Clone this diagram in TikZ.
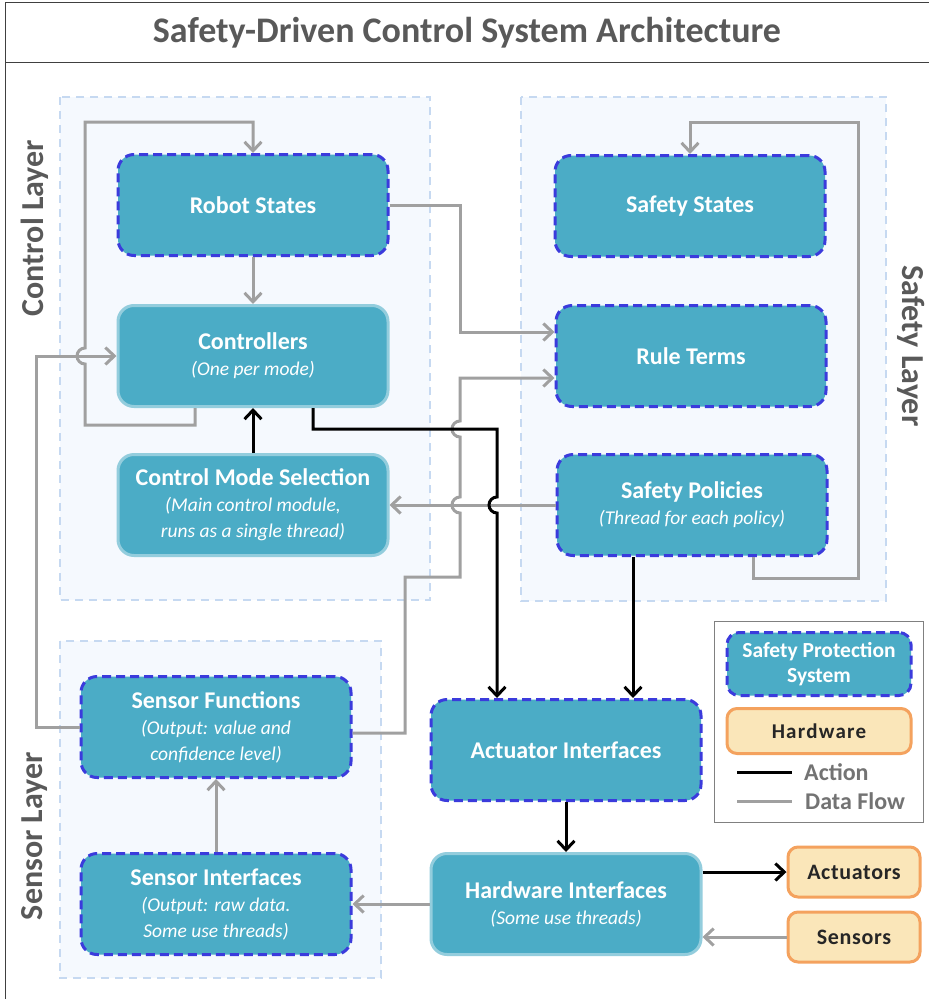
\documentclass[tikz,border=0pt]{standalone}
\usepackage{fontspec}
\setmainfont{Carlito}
\usetikzlibrary{arrows.meta, calc}
\definecolor{boxteal}{HTML}{4BACC6}
\definecolor{boxedge}{HTML}{93CDDD}
\definecolor{safetyedge}{HTML}{3B3BDC}
\definecolor{hwfill}{HTML}{FAE6B9}
\definecolor{hwedge}{HTML}{F4A25E}
\definecolor{layerfill}{HTML}{F5F9FE}
\definecolor{layeredge}{HTML}{C6D9F1}
\definecolor{flowgray}{HTML}{A0A0A0}
\definecolor{labelgray}{HTML}{595959}
\newcommand{\subline}{\fontsize{19.5}{26}\selectfont\itshape\mdseries}

\begin{document}
\begin{tikzpicture}[x=1pt, y=1pt, yscale=-1,
    basebox/.style={rectangle, rounded corners=16pt, fill=boxteal, text=white, align=center,
        minimum width=270pt, minimum height=101pt, line width=3pt, inner sep=2pt,
        font=\fontsize{24}{26}\selectfont\bfseries},
    safetybox/.style={basebox, draw=safetyedge, dash pattern=on 9pt off 5pt},
    plainbox/.style={basebox, draw=boxedge},
    hwbox/.style={rectangle, rounded corners=10pt, fill=hwfill, draw=hwedge, line width=3pt,
        text=black!85, minimum width=132pt, minimum height=50pt,
        font=\fontsize{22}{24}\selectfont\bfseries\addfontfeature{LetterSpace=3}},
    layerbox/.style={fill=layerfill, draw=layeredge, line width=2pt, dash pattern=on 8pt off 6pt},
    layerlabel/.style={text=labelgray, font=\fontsize{32}{34}\selectfont\bfseries},
    legendtext/.style={text=black!55, anchor=west, inner sep=0pt, font=\fontsize{24}{26}\selectfont\bfseries},
    dataflow/.style={draw=flowgray, line width=3pt, -{Straight Barb[length=9pt, width=17pt]}},
    action/.style={draw=black, line width=3pt, -{Straight Barb[length=9pt, width=17pt]}}]

    \useasboundingbox (0,0) rectangle (929,999);

    % frame and title
    \draw[line width=1pt, draw=black!75] (5,2) rectangle (945,1015);
    \draw[line width=1pt, draw=black!75] (5,62) -- (945,62);
    \node[text=labelgray, font=\fontsize{36}{40}\selectfont\bfseries] (title) at (467,33)
        {Safety-Driven Control System Architecture};

    % layers
    \path[layerbox] (60,97) rectangle (430,600);
    \path[layerbox] (521,97) rectangle (886,601);
    \path[layerbox] (60,641) rectangle (381,978);
    \node[layerlabel, rotate=90] (ctrllayer) at (35,228) {Control Layer};
    \node[layerlabel, rotate=-90] (safelayer) at (911,346) {Safety Layer};
    \node[layerlabel, rotate=90] (senslayer) at (35,836) {Sensor Layer};

    % control layer
    \node[safetybox] (rstate) at (253,205) {Robot States};
    \node[plainbox] (ctrl) at (253,356) {Controllers\\{\subline (One per mode)}};
    \node[plainbox] (cms) at (253,505) {Control Mode Selection\\{\subline (Main control module,}\\{\subline runs as a single thread)}};

    % safety layer
    \node[safetybox] (sstate) at (690,206) {Safety States};
    \node[safetybox] (rule) at (691,356) {Rule Terms};
    \node[safetybox] (spol) at (692,505) {Safety Policies\\{\subline (Thread for each policy)}};

    % sensor layer
    \node[safetybox] (sfun) at (216,727) {Sensor Functions\\{\subline (Output: value and}\\{\subline confidence level)}};
    \node[safetybox] (sint) at (216,904) {Sensor Interfaces\\{\subline (Output: raw data.}\\{\subline Some use threads)}};

    % interfaces and hardware
    \node[safetybox] (act) at (566,750) {Actuator Interfaces};
    \node[plainbox] (hwif) at (566,904) {Hardware Interfaces\\{\subline (Some use threads)}};
    \node[hwbox] (actu) at (854,872) {Actuators};
    \node[hwbox] (sens) at (854,937) {Sensors};

    % legend
    \draw[draw=black!50, line width=1pt, fill=white] (714,621) rectangle (923,822);
    \node[safetybox, minimum width=184pt, minimum height=63pt, rounded corners=12pt,
        font=\fontsize{21.5}{25}\selectfont\bfseries] (lgsafe) at (819,664) {Safety Protection\\System};
    \node[hwbox, minimum width=184pt, minimum height=45pt,
        font=\fontsize{21}{24}\selectfont\bfseries\addfontfeature{LetterSpace=6}] (lghw) at (819,731) {Hardware};
    \node[legendtext] (lgacttxt) at (804,772) {Action};
    \node[legendtext] (lgflowtxt) at (805,801) {Data Flow};
    \coordinate (lgact) at (737,772);
    \coordinate (lgflow) at (737,801);
    \draw[line width=3pt] (lgact) -- ([xshift=-12pt]lgacttxt.west);
    \draw[draw=flowgray, line width=3pt] (lgflow) -- ([xshift=-13pt]lgflowtxt.west);

    % data flow
    \draw[dataflow] (ctrl.south -| 195,0) -- (195,425) -- (85,425) -- (85,364)
        arc[start angle=90, end angle=270, radius=8] -- (85,122) -- (rstate.north |- 0,122) -- (rstate.north);
    \draw[dataflow] (rstate.south) -- (ctrl.north);
    \draw[dataflow] (sfun.west) -- (sfun.west -| 36,0) -- (36,356) -- (ctrl.west);
    \draw[dataflow] (rstate.east) -- (460,205) -- (460,332) -- (rule.west |- 0,332);
    \draw[dataflow] (sfun.east |- 0,733) -- (405,733) -- (405,577) -- (460,577) -- (460,513)
        arc[start angle=90, end angle=270, radius=8] -- (460,437)
        arc[start angle=90, end angle=270, radius=8] -- (460,378) -- (rule.west |- 0,378);
    \draw[dataflow] (spol.west) -- (cms.east);
    \draw[dataflow] (spol.south -| 753,0) -- (753,578) -- (858,578) -- (858,122)
        -- (sstate.north |- 0,122) -- (sstate.north);
    \draw[dataflow] (sens.west) -- (hwif.east |- sens.west);
    \draw[dataflow] (hwif.west) -- (sint.east);
    \draw[dataflow] (sint.north) -- (sfun.south);

    % actions
    \draw[action] (cms.north) -- (ctrl.south);
    \draw[action] (ctrl.south -| 313,0) -- (313,429) -- (497,429) -- (497,497)
        arc[start angle=270, end angle=90, radius=8] -- (act.north -| 497,0);
    \draw[action] (spol.south -| 633,0) -- (act.north -| 633,0);
    \draw[action] (act.south) -- (hwif.north);
    \draw[action] (hwif.east |- actu.west) -- (actu.west);
\end{tikzpicture}
\end{document}
